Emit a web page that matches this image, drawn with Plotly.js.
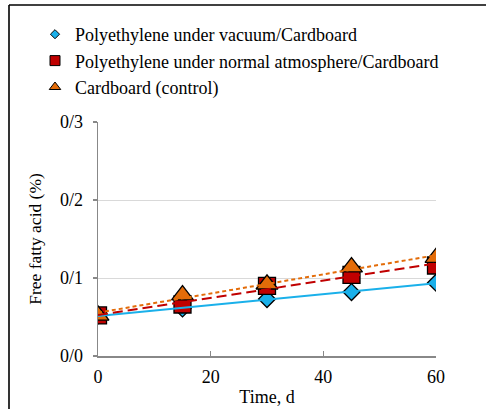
<!DOCTYPE html>
<html>
<head>
<meta charset="utf-8">
<script src="https://cdn.plot.ly/plotly-3.0.1.min.js"></script>
<style>html,body{margin:0;padding:0;background:#fff;}#chart{width:486px;height:409px;}</style>
</head>
<body>
<div id="chart"></div>
<script>
var days = [0, 15, 30, 45, 60];
var vacuum = [0.052, 0.061, 0.073, 0.082, 0.094];
var normalAtm = [0.052, 0.066, 0.090, 0.104, 0.116];
var control = [0.052, 0.078, 0.092, 0.114, 0.126];
var seriesNames = ['Polyethylene under vacuum/Cardboard', 'Polyethylene under normal atmosphere/Cardboard', 'Cardboard (control)'];
var yTickVals = [0, 0.1, 0.2, 0.3];
var yTickText = ['0/0', '0/1', '0/2', '0/3'];
var xTickVals = [0, 20, 40, 60];

function fit(x, y) {
  var n = x.length, mx = 0, my = 0;
  for (var i = 0; i < n; i++) { mx += x[i]; my += y[i]; }
  mx /= n; my /= n;
  var sxy = 0, sxx = 0;
  for (var j = 0; j < n; j++) { sxy += (x[j] - mx) * (y[j] - my); sxx += (x[j] - mx) * (x[j] - mx); }
  var b = sxy / sxx, a = my - b * mx;
  var xs = [x[0], x[n - 1]];
  return {x: xs, y: xs.map(function (v) { return a + b * v; })};
}

var FONT = '"Liberation Serif", "Times New Roman", serif';
var FS = 18;
var blue = '#1AB0EA', red = '#C00000', orange = '#E36C09';
var outline = {color: '#000', width: 1.3};

var traces = [];
traces.push({x: days, y: vacuum, mode: 'markers', showlegend: false, marker: {symbol: 'diamond', size: 13, color: blue, line: outline}});
traces.push({x: days, y: normalAtm, mode: 'markers', showlegend: false, marker: {symbol: 'square', size: 17, color: red, line: outline}});
traces.push({x: days, y: control, mode: 'markers', showlegend: false, marker: {symbol: 'triangle-up', size: 19, color: orange, line: outline}});
var f1 = fit(days, vacuum), f2 = fit(days, normalAtm), f3 = fit(days, control);
traces.push({x: f1.x, y: f1.y, mode: 'lines', showlegend: false, line: {color: blue, width: 2}});
traces.push({x: f2.x, y: f2.y, mode: 'lines', showlegend: false, line: {color: red, width: 2, dash: '10px,5px'}});
traces.push({x: f3.x, y: f3.y, mode: 'lines', showlegend: false, line: {color: orange, width: 2, dash: '4px,3px'}});
traces.push({x: [null], y: [null], mode: 'markers', name: seriesNames[0], legendgroup: 'a', marker: {symbol: 'diamond', size: 7, color: blue, line: {color: '#000', width: 1}}});
traces.push({x: [null], y: [null], mode: 'markers', name: seriesNames[1], legendgroup: 'b', marker: {symbol: 'square', size: 10, color: red, line: {color: '#000', width: 1}}});
traces.push({x: [null], y: [null], mode: 'markers', name: seriesNames[2], legendgroup: 'c', marker: {symbol: 'triangle-up', size: 10, color: orange, line: {color: '#000', width: 1}}});

var L = 98, R = 50, T = 122, B = 53, W = 486, H = 409;
var pw = W - L - R, ph = H - T - B;
function px2x(p) { return (p - L) / pw; }
function py2y(p) { return (H - B - p) / ph; }

var layout = {
  width: W, height: H,
  margin: {l: L, r: R, t: T, b: B, pad: 0},
  paper_bgcolor: '#fff', plot_bgcolor: '#fff',
  font: {family: FONT, size: FS, color: '#000'},
  xaxis: {
    range: [0, 60], tickvals: xTickVals, ticks: 'inside', ticklen: 5, tickcolor: '#888', tickwidth: 1.3,
    showline: true, linecolor: '#888', linewidth: 1.5, showgrid: false, zeroline: false,
    tickfont: {family: FONT, size: FS}, fixedrange: true, ticklabelstandoff: 4,
    title: {text: 'Time, d', font: {family: FONT, size: FS}, standoff: 4}
  },
  yaxis: {
    range: [0, 0.3], tickvals: yTickVals, ticktext: yTickText, ticks: 'outside', ticklen: 4, tickcolor: '#888', tickwidth: 1.3,
    showline: true, linecolor: '#888', linewidth: 1.5, showgrid: true, gridcolor: '#d9d9d9', gridwidth: 1, zeroline: false,
    tickfont: {family: FONT, size: FS}, fixedrange: true, ticklabelstandoff: 6,
    title: {text: 'Free fatty acid (%)', font: {family: FONT, size: 17.5}, standoff: 14}
  },
  showlegend: true,
  legend: {
    x: px2x(35), y: py2y(16), xanchor: 'left', yanchor: 'top',
    font: {family: FONT, size: FS}, bgcolor: 'rgba(0,0,0,0)', traceorder: 'grouped', tracegroupgap: 0, itemwidth: 30
  },
  shapes: [
    {type: 'line', xref: 'paper', yref: 'paper', x0: px2x(9), x1: px2x(500), y0: py2y(5), y1: py2y(5), line: {color: '#000', width: 1.6}},
    {type: 'line', xref: 'paper', yref: 'paper', x0: px2x(9), x1: px2x(9), y0: py2y(5), y1: py2y(420), line: {color: '#000', width: 1.6}}
  ]
};

Plotly.newPlot('chart', traces, layout, {displayModeBar: false, staticPlot: true});
</script>
</body>
</html>
